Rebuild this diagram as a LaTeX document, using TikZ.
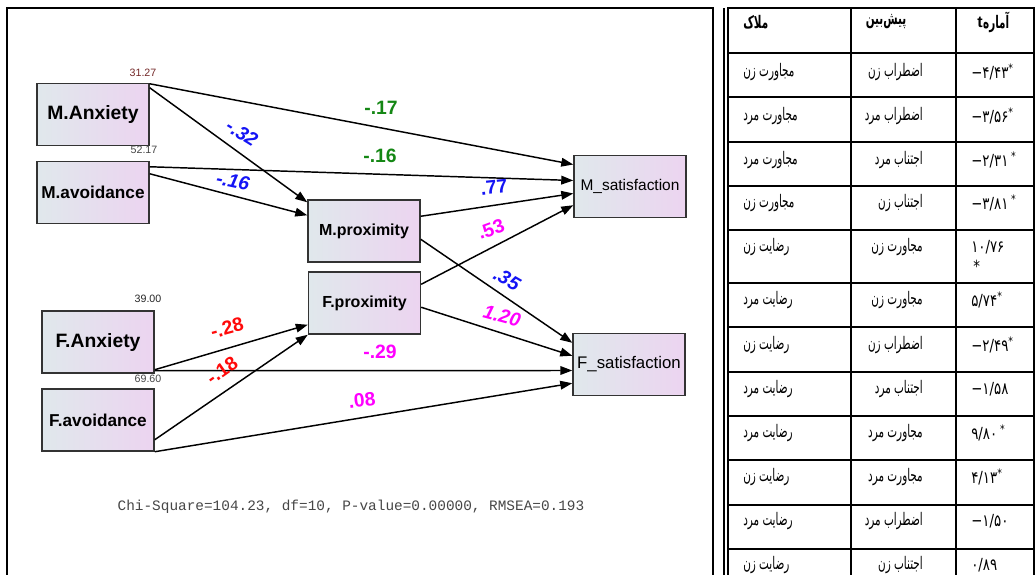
\documentclass[tikz,border=0pt]{standalone}
\usepackage{fontspec}
\setmainfont{Liberation Sans}
\newfontfamily\arabicfont[Script=Arabic, FakeStretch=0.6]{DejaVu Sans}
\newfontfamily\numfont[FakeStretch=0.8]{DejaVu Sans}
\newfontfamily\courfont{Liberation Mono}
\TeXXeTstate=1
\usetikzlibrary{arrows.meta,calc}
\definecolor{boxL}{RGB}{224,232,236}
\definecolor{boxR}{RGB}{236,212,240}
\definecolor{lgreen}{RGB}{20,135,20}
\definecolor{lblue}{RGB}{20,20,245}
\definecolor{lmag}{RGB}{255,0,255}
\definecolor{lred}{RGB}{255,10,10}
\definecolor{numbrown}{RGB}{115,40,40}
\definecolor{statgray}{RGB}{70,70,70}
\newcommand{\trow}[5]{%
  \node[ftxt, anchor=west] (r#1a) at (743,#2) {#3};
  \node[ftxt, anchor=east] (r#1b) at (923,#2) {#4};
  \node[ntxt, anchor=west] (r#1c) at (971,#2) {#5};}
\begin{document}
\begin{tikzpicture}[x=0.75pt,y=-0.75pt,
  box/.style={draw=black!80, line width=1.1pt, left color=boxL, right color=boxR,
    minimum width=84pt, minimum height=46.5pt, inner sep=0pt},
  bA/.style={font=\bfseries\fontsize{14.5}{16}\selectfont},
  bV/.style={font=\bfseries\fontsize{12.9}{14}\selectfont},
  bP/.style={font=\bfseries\fontsize{12}{14}\selectfont},
  arr/.style={line width=1.1pt, -{Triangle[length=9pt,width=6.5pt]}},
  lab/.style={font=\bfseries\fontsize{14.5}{16}\selectfont, inner sep=0pt},
  labi/.style={font=\bfseries\itshape\fontsize{14.5}{16}\selectfont, inner sep=0pt},
  small/.style={font=\fontsize{8}{9}\selectfont, inner sep=0pt},
  ftxt/.style={font=\arabicfont\fontsize{13}{15}\selectfont, inner sep=0pt},
  ftxtb/.style={font=\arabicfont\bfseries\fontsize{13}{15}\selectfont, inner sep=0pt},
  ntxt/.style={font=\numfont\fontsize{12.5}{14}\selectfont, inner sep=0pt},
  tline/.style={line width=1.5pt}
]
\useasboundingbox (0,0) rectangle (1036,575);
% frame
\draw[line width=1.9pt] (7,575) -- (7,8) -- (713,8) -- (713,575);
\draw[line width=0.8pt] (724,8) -- (724,575);
% boxes
\node[box, bA] (MA) at (93,114.5) {M.Anxiety};
\node[box, bV] (MV) at (93,192.5) {M.avoidance};
\node[box, bP] (MP) at (364,231) {M.proximity};
\node[box, bP] (FP) at (364.5,303) {F.proximity};
\node[box, font=\fontsize{11.6}{13}\selectfont] (MS) at (630,186.5) {M\_satisfaction};
\node[box, font=\fontsize{12.6}{14}\selectfont] (FS) at (629,364.5) {F\_satisfaction};
\node[box, bA] (FA) at (98,342) {F.Anxiety};
\node[box, bV] (FV) at (98,420) {F.avoidance};
% arrows
\draw[arr] ($(MA.north east)+(0,1)$) -- ($(MS.west)+(0,-22)$);
\draw[arr] ($(MA.north east)+(0,5)$) -- ($(MP.north west)+(0,3)$);
\draw[arr] ($(MV.north east)+(0,6)$) -- ($(MS.west)+(0,-6)$);
\draw[arr] ($(MV.north east)+(0,13)$) -- ($(MP.north west)+(0,16)$);
\draw[arr] ($(MP.north east)+(0,17)$) -- ($(MS.west)+(0,7)$);
\draw[arr] ($(FP.north east)+(0,13)$) -- ($(MS.south west)+(0,-13)$);
\draw[arr] ($(MP.north east)+(0,40)$) -- ($(FS.north west)+(0,10)$);
\draw[arr] ($(FP.north east)+(0,36)$) -- ($(FS.north west)+(0,23)$);
\draw[arr] ($(FA.south east)+(0,-4)$) -- ($(FP.south west)+(0,-10)$);
\draw[arr] ($(FA.south east)+(0,-3)$) -- ($(FS.west)+(0,6)$);
\draw[arr] ($(FV.south east)+(0,-12)$) -- ($(FP.south west)+(0,0)$);
\draw[arr] (FV.south east) -- ($(FS.south west)+(0,-13)$);
% labels
\node[lab, lgreen] (l1) at (381,108) {-.17};
\node[lab, lgreen] (l2) at (380,156) {-.16};
\node[labi, lblue, rotate=-32] (l3) at (242,133) {-.32};
\node[labi, lblue, rotate=-12] (l4) at (233,181) {-.16};
\node[lab, lblue, rotate=6] (l5) at (494,187) {.77};
\node[lab, lmag, rotate=20] (l6) at (491,229) {.53};
\node[labi, lblue, rotate=-30] (l7) at (507,279) {.35};
\node[labi, lmag, rotate=-15] (l8) at (502,316) {1.20};
\node[lab, lmag] (l9) at (380,352) {-.29};
\node[lab, lmag, rotate=6] (l10) at (362,400) {.08};
\node[lab, lred, rotate=15] (l11) at (227,328) {-.28};
\node[lab, lred, rotate=35] (l12) at (222,370) {-.18};
% small numbers
\node[small, numbrown] (n1) at (143,73) {31.27};
\node[small, statgray] (n2) at (144,150) {52.17};
\node[small, black!85] (n3) at (148,299) {39.00};
\node[small, statgray] (n4) at (148,379) {69.60};
% stats
\node[font=\courfont\fontsize{10.8}{12}\selectfont, statgray, inner sep=0pt] (stat) at (351,507)
  {Chi-Square=104.23, df=10, P-value=0.00000, RMSEA=0.193};
% table
\foreach \xx in {728,851,956,1034} \draw[tline] (\xx,8) -- (\xx,575);
\foreach \yy in {8,53,97,142,186,230,283,327,372,416,460,505,549} \draw[tline] (727,\yy) -- (1035,\yy);
\node[ftxtb, anchor=west] (h1) at (743,22) {\beginR ملاک\endR};
\node[ftxtb] (h2) at (886,22) {\beginR پیش‌بین\endR};
\node[font=\bfseries\fontsize{12}{14}\selectfont, inner sep=0pt, anchor=west] (h3t) at (977,22) {t};
\node[ftxtb, anchor=west] (h3) at (h3t.east) {\beginR آماره\endR};
\trow{1}{72}{\beginR مجاورت زن\endR}{\beginR اضطراب زن\endR}{−۴/۴۳\textsuperscript{*}}
\trow{2}{116}{\beginR مجاورت مرد\endR}{\beginR اضطراب مرد\endR}{−۳/۵۶\textsuperscript{*}}
\trow{3}{160}{\beginR مجاورت مرد\endR}{\beginR اجتناب مرد\endR}{−۲/۳۱\,\textsuperscript{*}}
\trow{4}{203}{\beginR مجاورت زن\endR}{\beginR اجتناب زن\endR}{−۳/۸۱\,\textsuperscript{*}}
\trow{5}{247}{\beginR رضایت زن\endR}{\beginR مجاورت زن\endR}{۱۰/۷۶}
\node[ntxt, anchor=west] (r5s) at (973,266) {*};
\trow{6}{300}{\beginR رضایت مرد\endR}{\beginR مجاورت زن\endR}{۵/۷۴\textsuperscript{*}}
\trow{7}{345}{\beginR رضایت زن\endR}{\beginR اضطراب زن\endR}{−۲/۴۹\textsuperscript{*}}
\trow{8}{389}{\beginR رضایت مرد\endR}{\beginR اجتناب مرد\endR}{−۱/۵۸}
\trow{9}{433}{\beginR رضایت مرد\endR}{\beginR مجاورت مرد\endR}{۹/۸۰\,\textsuperscript{*}}
\trow{10}{477}{\beginR رضایت زن\endR}{\beginR مجاورت مرد\endR}{۴/۱۳\textsuperscript{*}}
\trow{11}{521}{\beginR رضایت مرد\endR}{\beginR اضطراب مرد\endR}{−۱/۵۰}
\trow{12}{565}{\beginR رضایت زن\endR}{\beginR اجتناب زن\endR}{۰/۸۹}
\end{tikzpicture}
\end{document}
